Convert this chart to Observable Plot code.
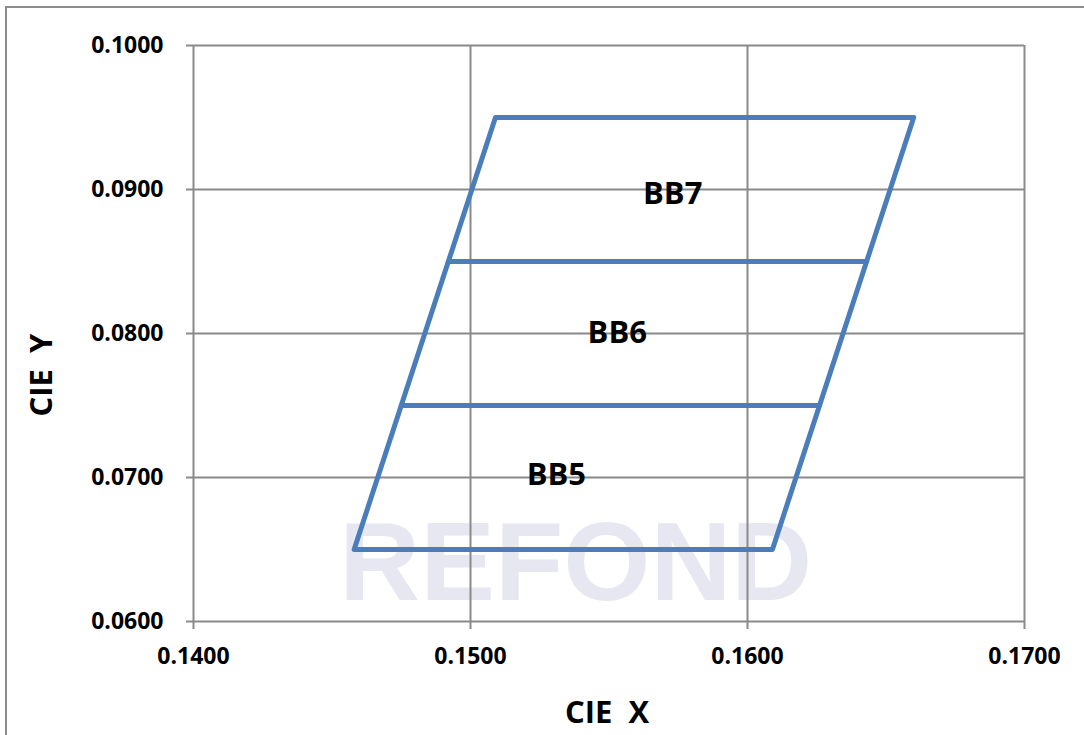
<!DOCTYPE html>
<html>
<head>
<meta charset="utf-8">
<script src="https://cdn.jsdelivr.net/npm/d3@7"></script>
<script src="https://cdn.jsdelivr.net/npm/@observablehq/plot@0.6"></script>
<style>
  html, body { margin: 0; padding: 0; background: #fff; }
  #wrap { position: relative; width: 1084px; height: 735px; overflow: hidden; font-family: "Open Sans", "DejaVu Sans", sans-serif; }
  #border { position: absolute; left: 5px; top: 6px; width: 1100px; height: 800px; border-left: 2px solid #8c8c8c; border-top: 2px solid #8c8c8c; box-sizing: border-box; }
  .title { position: absolute; font-weight: 700; font-size: 31px; color: #000; white-space: pre; line-height: 1; }
  #xtitle { left: 607px; top: 696px; transform: translateX(-50%); }
  #ytitle { left: 40px; top: 375px; transform: translate(-50%, -50%) rotate(-90deg); }
  svg { position: absolute; left: 0; top: 0; }
</style>
</head>
<body>
<div id="wrap">
  <div id="border"></div>
  <div id="chart"></div>
  <div id="xtitle" class="title">CIE  X</div>
  <div id="ytitle" class="title">CIE  Y</div>
</div>
<script>
// ---- data ----
const xTicks = [0.14, 0.15, 0.16, 0.17];
const yTicks = [0.06, 0.07, 0.08, 0.09, 0.10];

const binNames = ["BB5", "BB6", "BB7"];
// corner points of each bin (closed polygon)
const bb5X = [0.1458, 0.1609, 0.1626, 0.1475, 0.1458];
const bb5Y = [0.0650, 0.0650, 0.0750, 0.0750, 0.0650];
const bb6X = [0.1475, 0.1626, 0.1643, 0.1492, 0.1475];
const bb6Y = [0.0750, 0.0750, 0.0850, 0.0850, 0.0750];
const bb7X = [0.1492, 0.1643, 0.1660, 0.1509, 0.1492];
const bb7Y = [0.0850, 0.0850, 0.0950, 0.0950, 0.0850];

const labelX = [0.1531, 0.1553, 0.1573];
const labelY = [0.0702, 0.0800, 0.0897];

const watermarkText = ["REFOND"];
const watermarkX = [0.1538];
const watermarkY = [0.0640];

// ---- build tables ----
const binXs = [bb5X, bb6X, bb7X];
const binYs = [bb5Y, bb6Y, bb7Y];
const binRows = [];
binNames.forEach((name, i) => {
  binXs[i].forEach((x, j) => binRows.push({bin: name, x, y: binYs[i][j]}));
});
const labelRows = binNames.map((name, i) => ({name, x: labelX[i], y: labelY[i]}));
const wmRows = watermarkText.map((t, i) => ({t, x: watermarkX[i], y: watermarkY[i]}));

const grid = "#8a8a8a";
const chart = Plot.plot({
  width: 1084,
  height: 735,
  marginLeft: 193,
  marginRight: 60,
  marginTop: 45,
  marginBottom: 114,
  style: {fontFamily: "'Open Sans', 'DejaVu Sans', sans-serif", background: "transparent", overflow: "visible"},
  x: {domain: [0.14, 0.17], label: null},
  y: {domain: [0.06, 0.10], label: null},
  marks: [
    Plot.text(wmRows, {x: "x", y: "y", text: "t", fill: "#e7e7f1", fontSize: 112, fontWeight: 700,
      fontFamily: "'Liberation Sans', Arial, sans-serif", textAnchor: "middle", lineAnchor: "middle"}),
    Plot.gridX(xTicks, {stroke: grid, strokeOpacity: 1, strokeWidth: 2}),
    Plot.gridY(yTicks, {stroke: grid, strokeOpacity: 1, strokeWidth: 2}),
    Plot.axisX({ticks: xTicks, tickFormat: d => d.toFixed(4), tickSize: 8, tickPadding: 18,
      stroke: grid, strokeWidth: 2, fontSize: 23, fontWeight: 700, fill: "#000", label: null}),
    Plot.axisY({ticks: yTicks, tickFormat: d => d.toFixed(4), tickSize: 7, tickPadding: 23,
      stroke: grid, strokeWidth: 2, fontSize: 23, fontWeight: 700, fill: "#000", label: null}),
    Plot.line(binRows, {x: "x", y: "y", z: "bin", stroke: "#4a7ebb", strokeWidth: 5,
      strokeLinejoin: "round", strokeLinecap: "round"}),
    Plot.text(labelRows, {x: "x", y: "y", text: "name", fontSize: 31, fontWeight: 700, fill: "#000",
      textAnchor: "middle", lineAnchor: "middle"})
  ]
});
document.getElementById("chart").appendChild(chart);
</script>
</body>
</html>
